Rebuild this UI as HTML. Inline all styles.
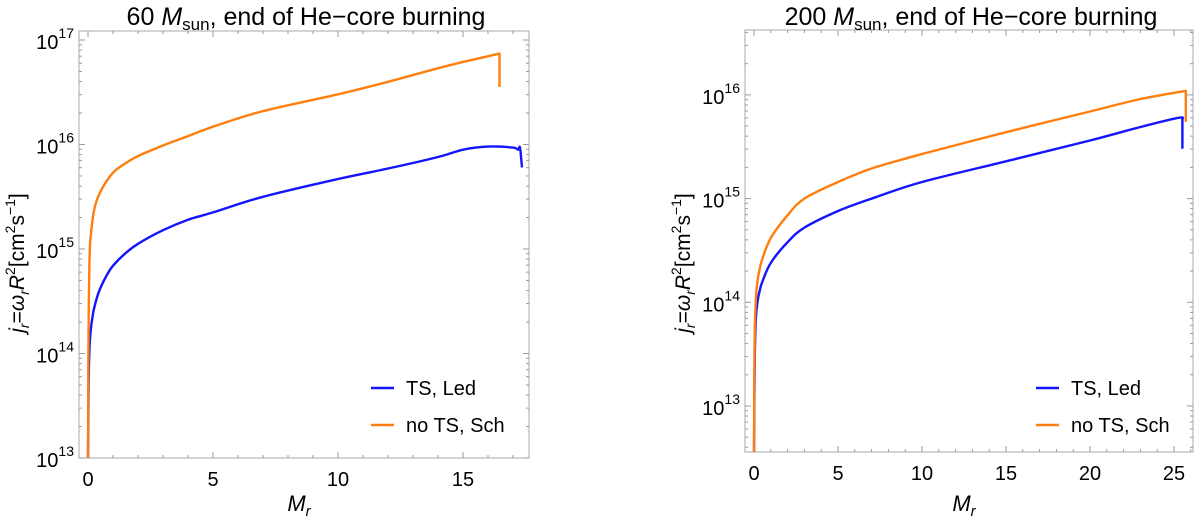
<!DOCTYPE html>
<html><head><meta charset="utf-8"><style>
html,body{margin:0;padding:0;background:#fff;}
svg{display:block;font-family:"Liberation Sans",sans-serif;}
</style></head><body>
<svg id="chart" width="1200" height="520" viewBox="0 0 1200 520" xmlns="http://www.w3.org/2000/svg">
</svg>
<script>
// ---- Left panel data (60 Msun) ----
const leftOrangeX = [0, 0.01, 0.03, 0.06, 0.1, 0.25, 0.5, 1, 1.5, 2, 3, 4, 5, 7, 10, 12, 14, 15, 16.46, 16.46];
const leftOrangeY = [13, 13.8, 14.5, 14.9, 15.1, 15.38, 15.55, 15.73, 15.82, 15.89, 15.99, 16.08, 16.17, 16.32, 16.48, 16.6, 16.73, 16.79, 16.87, 16.55];
const leftBlueX = [0, 0.02, 0.05, 0.1, 0.2, 0.35, 0.5, 0.75, 1, 1.5, 2, 3, 4, 5, 7, 10, 12, 14, 15, 16, 17, 17.2, 17.28, 17.36];
const leftBlueY = [13, 13.6, 14.0, 14.2, 14.38, 14.53, 14.63, 14.75, 14.84, 14.96, 15.05, 15.18, 15.28, 15.35, 15.5, 15.67, 15.77, 15.88, 15.95, 15.98, 15.97, 15.95, 15.97, 15.78];
const leftXTicks = [0, 5, 10, 15];
const leftYTicks = [13, 14, 15, 16, 17];
// ---- Right panel data (200 Msun) ----
const rightOrangeX = [0, 0.02, 0.05, 0.1, 0.2, 0.35, 0.5, 1, 2, 3, 5, 7, 10, 15, 20, 23, 25.7, 25.7];
const rightOrangeY = [12.5, 13.3, 13.75, 14.0, 14.2, 14.33, 14.42, 14.62, 14.84, 15.0, 15.16, 15.29, 15.43, 15.64, 15.84, 15.96, 16.04, 15.74];
const rightBlueX = [0, 0.02, 0.05, 0.1, 0.2, 0.35, 0.5, 1, 2, 3, 5, 7, 10, 15, 20, 23, 25.3, 25.5, 25.5];
const rightBlueY = [12.5, 13.0, 13.5, 13.82, 14.0, 14.12, 14.2, 14.38, 14.58, 14.72, 14.88, 15.0, 15.16, 15.36, 15.56, 15.69, 15.78, 15.76, 15.48];
const rightXTicks = [0, 5, 10, 15, 20, 25];
const rightYTicks = [13, 14, 15, 16];

const NS = "http://www.w3.org/2000/svg";
const svg = document.getElementById('chart');
function mk(tag, attrs, parent){const e=document.createElementNS(NS,tag);for(const k in attrs)e.setAttribute(k,attrs[k]);(parent||svg).appendChild(e);return e;}

function smoothPath(pts){
  let d='M'+pts[0][0].toFixed(1)+','+pts[0][1].toFixed(1);
  for(let i=0;i<pts.length-1;i++){
    const p0=pts[Math.max(i-1,0)],p1=pts[i],p2=pts[i+1],p3=pts[Math.min(i+2,pts.length-1)];
    if(Math.abs(p2[0]-p1[0])<0.5){d+=' L'+p2[0].toFixed(1)+','+p2[1].toFixed(1);continue;}
    const t=6;
    let c1=[p1[0]+(p2[0]-p0[0])/t,p1[1]+(p2[1]-p0[1])/t];
    let c2=[p2[0]-(p3[0]-p1[0])/t,p2[1]-(p3[1]-p1[1])/t];
    if(Math.abs(p3[0]-p2[0])<0.5) c2=[p2[0]-(p2[0]-p1[0])/3,p2[1]-(p2[1]-p1[1])/3];
    d+=' C'+c1[0].toFixed(1)+','+c1[1].toFixed(1)+' '+c2[0].toFixed(1)+','+c2[1].toFixed(1)+' '+p2[0].toFixed(1)+','+p2[1].toFixed(1);
  }
  return d;
}

function panel(cfg){
  const g = mk('g',{});
  
  
  const sx = v => cfg.x0 + v*cfg.pxu;
  const sy = v => cfg.yref - (v-cfg.vref)*cfg.pxd;
  const fr = mk('rect',{x:cfg.L,y:cfg.T,width:cfg.R-cfg.L,height:cfg.B-cfg.T,fill:'none',stroke:'#aaa','stroke-width':1},g);
  
  
  for(let v=0; v<=cfg.xmax; v+=1){
    const x=sx(v);
    if(x<cfg.L||x>cfg.R) continue;
    const len = v%5===0?6:3;
    mk('line',{x1:x,y1:cfg.B,x2:x,y2:cfg.B-len,stroke:'#999'},g);
    mk('line',{x1:x,y1:cfg.T,x2:x,y2:cfg.T+len,stroke:'#999'},g);
  }
  cfg.xticks.forEach(v=>{
    const t=mk('text',{x:sx(v),y:cfg.B+28,'text-anchor':'middle','font-size':20,fill:'#000'},g);
    t.textContent=v;
    
    
  });
  for(let d=Math.floor(cfg.ymin); d<=cfg.ymax; d++){
    for(let m=1;m<10;m++){
      const lv=d+Math.log10(m);
      if(lv<cfg.ymin-1e-6||lv>cfg.ymax+1e-6) continue;
      const y=sy(lv); const len=m===1?6:3;
      mk('line',{x1:cfg.L,y1:y,x2:cfg.L+len,y2:y,stroke:'#999'},g);
      mk('line',{x1:cfg.R,y1:y,x2:cfg.R-len,y2:y,stroke:'#999'},g);
    }
  }
  cfg.yticks.forEach(v=>{
    const t=mk('text',{x:cfg.L-5,y:sy(v)+9,'text-anchor':'end','font-size':20,fill:'#000'},g);
    t.innerHTML='10<tspan font-size="14" dy="-11">'+v+'</tspan>';
    
    
  });
  const cp=mk('clipPath',{id:cfg.name+'-clip'},g);
  mk('rect',{x:cfg.L,y:cfg.T,width:cfg.R-cfg.L,height:cfg.B-cfg.T},cp);
  function series(xs,ys,color,name){
    const pts=xs.map((x,i)=>[sx(x),sy(ys[i])]);
    const p=mk('path',{d:smoothPath(pts),fill:'none',stroke:color,'stroke-width':2.4,'stroke-linejoin':'round','clip-path':'url(#'+cfg.name+'-clip)'},g);
    
    
  }
  series(cfg.bx,cfg.by,'#1414ff','series-ts-led');
  series(cfg.ox,cfg.oy,'#ff7f0e','series-no-ts-sch');
  const lg=mk('g',{},g);
  
  
  [[ '#1414ff','TS, Led',388],['#ff7f0e','no TS, Sch',425]].forEach(e=>{
    mk('line',{x1:cfg.legX,y1:e[2],x2:cfg.legX+23,y2:e[2],stroke:e[0],'stroke-width':2.4},lg);
    const t=mk('text',{x:cfg.legX+35,y:e[2]+7,'font-size':20,fill:'#000'},lg);
    t.textContent=e[1];
    
    
  });
  const tt=mk('text',{x:(cfg.L+cfg.R)/2+2,y:25,'text-anchor':'middle','font-size':25,fill:'#000'},g);
  tt.innerHTML=cfg.titleNum+' <tspan font-style="italic">M</tspan><tspan font-size="17" dy="5">sun</tspan><tspan dy="-5">, end of He\u2212core burning</tspan>';
  
  
  const xl=mk('text',{x:(cfg.L+cfg.R)/2-5,y:511,'text-anchor':'middle','font-size':22,fill:'#000'},g);
  xl.innerHTML='<tspan font-style="italic">M</tspan><tspan font-style="italic" font-size="15" dy="5">r</tspan>';
  
  
  const yl=mk('text',{x:0,y:0,'text-anchor':'middle','font-size':21,fill:'#000',transform:'translate('+(cfg.ylabX)+',263) rotate(-90)'},g);
  yl.innerHTML='<tspan font-style="italic">j</tspan><tspan font-style="italic" font-size="14" dy="5">r</tspan><tspan dy="-5">=</tspan><tspan font-style="italic">\u03c9</tspan><tspan font-style="italic" font-size="14" dy="5">r</tspan><tspan font-style="italic" dy="-5">R</tspan><tspan font-size="14" dy="-9">2</tspan><tspan dy="9">[cm</tspan><tspan font-size="14" dy="-9">2</tspan><tspan dy="9">s</tspan><tspan font-size="14" dy="-9">\u22121</tspan><tspan dy="9">]</tspan>';
  
  
}

panel({name:'panel-60-msun',L:79,R:529,T:31,B:458,x0:88,pxu:25,yref:458,vref:13,pxd:104.5,
  xmin:-0.36,xmax:17.64,ymin:13,ymax:17.09,xticks:leftXTicks,yticks:leftYTicks,
  bx:leftBlueX,by:leftBlueY,ox:leftOrangeX,oy:leftOrangeY,legX:371,titleNum:'60',ylabX:24});
panel({name:'panel-200-msun',L:745,R:1193,T:30,B:452,x0:754,pxu:16.8,yref:406,vref:13,pxd:103.7,
  xmin:-0.54,xmax:26.1,ymin:12.556,ymax:16.63,xticks:rightXTicks,yticks:rightYTicks,
  bx:rightBlueX,by:rightBlueY,ox:rightOrangeX,oy:rightOrangeY,legX:1036,titleNum:'200',ylabX:690});
</script>
</body></html>
